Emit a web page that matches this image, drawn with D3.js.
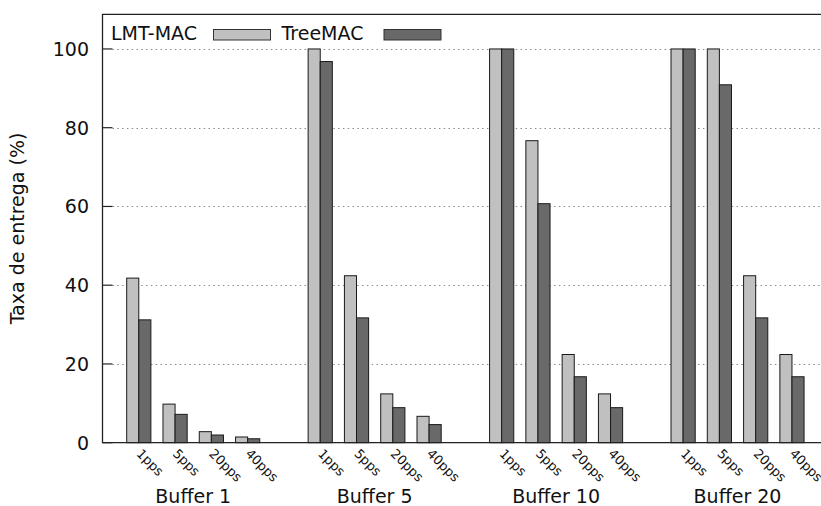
<!DOCTYPE html>
<html>
<head>
<meta charset="utf-8">
<script src="https://cdn.jsdelivr.net/npm/d3@7"></script>
<style>
  html, body { margin: 0; padding: 0; background: #fff; }
  svg { display: block; font-family: "DejaVu Sans", sans-serif; }
</style>
</head>
<body>
<svg id="chart" width="821" height="506"></svg>
<script>
// ---- data ----
const buffers = ["Buffer 1", "Buffer 5", "Buffer 10", "Buffer 20"];
const rates = ["1pps", "5pps", "20pps", "40pps"];
const seriesNames = ["LMT-MAC", "TreeMAC"];
const lmtMac = [41.8, 9.8, 2.8, 1.45,  100, 42.4, 12.4, 6.7,  100, 76.7, 22.4, 12.4,  100, 100, 42.4, 22.4];
const treeMac = [31.2, 7.2, 1.95, 1.0,  96.8, 31.7, 8.9, 4.6,  100, 60.7, 16.75, 8.9,  100, 90.9, 31.7, 16.75];
const yTicks = [0, 20, 40, 60, 80, 100];

const colors = ["#c0c0c0", "#696969"];
const svg = d3.select("#chart");

const pLeft = 102.5, pRight = 821, pTop = 14.3, pBottom = 442.7;
const x = d3.scaleLinear().domain([-1, 18.8]).range([pLeft, pRight]);
const y = d3.scaleLinear().domain([0, 108.8]).range([pBottom, pTop]);
const slot = x(1) - x(0);
const barW = slot / 3;

// build rows: slot index includes a gap slot between buffers
const rows = [];
buffers.forEach((b, bi) => {
  rates.forEach((r, ri) => {
    const k = bi * rates.length + ri;
    rows.push({ buffer: b, rate: r, idx: bi * (rates.length + 1) + ri, vals: [lmtMac[k], treeMac[k]] });
  });
});

// grid lines
svg.append("g").selectAll("line").data(yTicks.filter(d => d > 0)).join("line")
  .attr("x1", pLeft + 10).attr("x2", pRight)
  .attr("y1", d => Math.round(y(d)) + 0.5).attr("y2", d => Math.round(y(d)) + 0.5)
  .attr("stroke", "#8a8a8a").attr("stroke-width", 1)
  .attr("stroke-dasharray", "1.5,3.3");

// bars
const bars = svg.append("g");
rows.forEach(row => {
  row.vals.forEach((v, si) => {
    bars.append("rect")
      .attr("x", x(row.idx) - barW + si * barW)
      .attr("y", y(v))
      .attr("width", barW)
      .attr("height", y(0) - y(v))
      .attr("fill", colors[si])
      .attr("stroke", "#1a1a1a")
      .attr("stroke-width", 1);
  });
});

// frame: left, top, bottom
svg.append("path")
  .attr("d", `M${pRight + 2},${pTop} H${pLeft} V${pBottom} H${pRight + 2}`)
  .attr("fill", "none").attr("stroke", "#222").attr("stroke-width", 1.3);

// y ticks
const yt = svg.append("g");
yTicks.forEach(t => {
  yt.append("line").attr("x1", pLeft).attr("x2", pLeft + 10)
    .attr("y1", y(t)).attr("y2", y(t)).attr("stroke", "#222").attr("stroke-width", 1.2);
  yt.append("text").attr("x", 89).attr("y", y(t) + 7)
    .attr("text-anchor", "end").attr("font-size", 19).attr("fill", "#111").text(t);
});

// y label
svg.append("text")
  .attr("transform", `translate(23.5,${(pTop + pBottom) / 2}) rotate(-90)`)
  .attr("text-anchor", "middle").attr("font-size", 19).attr("fill", "#111")
  .text("Taxa de entrega (%)");

// rotated rate labels
rows.forEach(row => {
  svg.append("text")
    .attr("transform", `translate(${x(row.idx) - 3},${454.5}) rotate(45)`)
    .attr("font-size", 13).attr("fill", "#111")
    .text(row.rate);
});

// buffer labels
buffers.forEach((b, bi) => {
  const c = (x(bi * 5) + x(bi * 5 + 3)) / 2;
  svg.append("text").attr("x", c).attr("y", 503)
    .attr("text-anchor", "middle").attr("font-size", 19).attr("fill", "#111").text(b);
});

// legend
const legendX = [111, 281.5];
seriesNames.forEach((n, i) => {
  svg.append("text").attr("x", legendX[i]).attr("y", 39.5)
    .attr("font-size", 19).attr("fill", "#111").text(n);
  svg.append("rect").attr("x", legendX[i] + 102.5).attr("y", 29.5)
    .attr("width", 57).attr("height", 10.5)
    .attr("fill", colors[i]).attr("stroke", "#333").attr("stroke-width", 1);
});
</script>
</body>
</html>
